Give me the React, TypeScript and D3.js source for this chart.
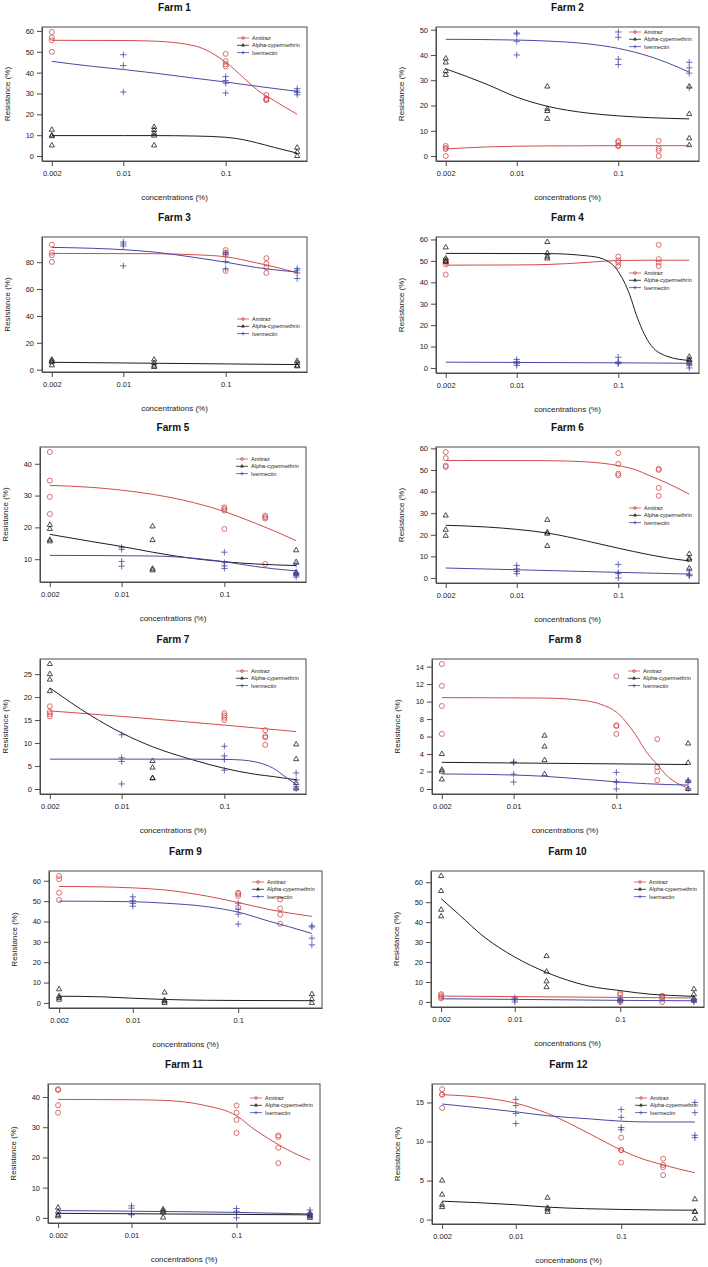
import React, { useEffect, useRef } from "react";
import * as d3 from "d3";

// ---- data ----
const farms = ["Farm 1", "Farm 2", "Farm 3", "Farm 4", "Farm 5", "Farm 6", "Farm 7", "Farm 8", "Farm 9", "Farm 10", "Farm 11", "Farm 12"];
const seriesNames = ["Amitraz", "Alpha-cypermethrin", "Ivermectin"];

const amitrazConc = [0.002, 0.1, 0.25];
const alphaConc = [0.002, 0.02, 0.5];
const ivermectinConc = [0.01, 0.1, 0.5];

const xTickValues = [0.002, 0.01, 0.1];
const xTickLabels = ["0.002", "0.01", "0.1"];
const yTickSteps = [10, 10, 20, 10, 10, 10, 5, 2, 10, 10, 10, 5];

const amitrazPoints = [
  [[59.5, 56.8, 55.5, 50], [49, 45.5, 44, 43], [29.3, 27.5, 27, 26.8]],
  [[4, 3.2, 2.8, 0], [6, 5.4, 4.2, 3.9], [6, 3, 2.1, 0]],
  [[93, 87, 85.2, 80.2], [89, 87, 85.5, 73.5], [83, 79, 76, 72]],
  [[50.5, 49.5, 48.4, 43.6], [52, 50.2, 49.2, 47.6], [57.5, 50.8, 49.2, 47.6]],
  [[43.7, 34.7, 29.6, 24.2], [26.3, 25.8, 25.3, 19.5], [23.7, 23.2, 22.8, 8.5]],
  [[58.3, 55.5, 52, 51.4], [57.8, 52.8, 48.3, 47.5], [50.5, 50, 41.7, 38]],
  [[18, 16.8, 16.3, 15.8], [16.5, 16, 15.5, 15], [12.8, 11.5, 11.2, 9.6]],
  [[14.3, 11.8, 9.5, 6.3], [12.9, 7.3, 7.2, 6.3], [5.7, 2.5, 2, 1]],
  [[62.3, 60.8, 54.1, 50.5], [54.1, 53.5, 52.5, 47], [50.8, 46.4, 43.4, 38.9]],
  [[3.9, 3.3, 2.5, 1.8], [4.3, 3.5, 0.8, 0], [3.1, 2.5, 1.5, 0]],
  [[42.6, 42.3, 37.3, 34.8], [37.2, 34.8, 32.4, 28.1], [27.3, 26.8, 23.2, 18.1]],
  [[16.7, 16, 16, 14.3], [10.5, 8.9, 8.9, 7.3], [7.8, 7, 6.7, 5.7]],
];

const alphaPoints = [
  [[12.6, 9.9, 9.5, 5.1], [13.9, 12.5, 11, 9.8, 5.1], [4, 1.9, 0]],
  [[38.6, 37, 33.6, 32.1], [27.5, 18.7, 17.8, 14.7], [27.5, 16.6, 7, 4.3]],
  [[7.5, 6.5, 5.5, 3.2], [7.5, 5, 3, 2], [6.5, 5, 3, 2.5]],
  [[56.3, 51.1, 50, 49.5], [58.8, 53.6, 52, 51.1], [5.2, 3.9, 3.5, 2.5]],
  [[20.8, 19.5, 16.1, 15.6], [20.3, 16, 7, 6.5], [12.8, 9.1, 5.9, 5.3]],
  [[28.9, 22.3, 19.5], [26.9, 21.1, 20.5, 14.8], [11.1, 9.1, 8.5, 4.5]],
  [[27.2, 25, 23.8, 21.3], [6.1, 4.65, 2.4, 2.3], [9.7, 6.5, 1.3, 0.1]],
  [[4, 2.2, 2, 1.1], [6.1, 4.85, 3.3, 1.7], [5.2, 3, 0.9, 0]],
  [[6.7, 3.3, 2.5, 1.6], [5.1, 1.3, 0.8, 0], [4.3, 1.8, 0]],
  [[63.1, 55.6, 46.2, 42.9], [23, 15.2, 10.3, 7.4], [6.4, 3.8, 1.8, 0.7]],
  [[3.4, 2, 1, 0.5], [2.8, 2.3, 1.8, 0.1], [1.5, 1, 0.5, 0]],
  [[5, 3.2, 1.9, 1.6], [2.8, 1.5, 1.3, 1], [2.6, 1, 1, 0.1]],
];

const ivermectinPoints = [
  [[48.6, 43.4, 30.7], [38.1, 36.2, 34.9, 30.2], [32.3, 31.2, 30.5, 29.4]],
  [[48.7, 48.3, 45.4, 40], [49.1, 47, 38.3, 36.2], [37.1, 34.9, 32.8, 27]],
  [[95, 93.5, 92, 77.2], [87, 86, 80.5, 75], [75.2, 74, 72, 67.8]],
  [[4, 3, 2, 1.2], [5, 2.8, 2.3, 2], [3.4, 1.9, 1.1, 0]],
  [[13.7, 13.1, 9.3, 7.8], [12.2, 8.9, 7.9, 7.1], [8.4, 5.6, 5.2, 4.4]],
  [[5.8, 4.2, 3, 2], [6.25, 2.5, 2, 0], [3.3, 1.8, 1.25, 1]],
  [[11.8, 6.8, 6, 1.1], [9.3, 7.2, 6.4, 4.1], [3.5, 2, 0.5, 0]],
  [[3.1, 3, 1.7, 0.8], [1.9, 0.8, 0.8, 0], [1, 0.8, 0]],
  [[52.1, 50.2, 48.9, 47.5], [49, 46, 43.6, 38.7], [37.9, 37.3, 31.8, 28.5]],
  [[2.1, 1.5, 1, 0], [2, 1.2, 0.8, 0.3], [1.5, 1, 0.5, 0]],
  [[4, 3.2, 1.3, 1], [3.1, 2.2, 1.8, 0], [2.6, 1.5, 1, 0.6]],
  [[15.4, 14.6, 13.6, 12.3], [14.1, 13.1, 11.8, 11.5], [15, 13.7, 10.8, 10.5]],
];

// fitted curves, [concentration, resistance]
const amitrazCurves = [
  [[0.002, 55.5], [0.01, 55.4], [0.02, 55.1], [0.05, 52.8], [0.1, 45], [0.15, 37.5], [0.2, 32], [0.3, 26.5], [0.5, 20]],
  [[0.002, 2.8], [0.005, 3.6], [0.01, 3.9], [0.02, 4], [0.1, 4.1], [0.5, 4.1]],
  [[0.002, 86.5], [0.02, 86.3], [0.05, 85.5], [0.1, 84], [0.2, 79.5], [0.3, 76.5], [0.5, 72]],
  [[0.002, 48], [0.01, 48.1], [0.02, 48.3], [0.05, 49.3], [0.1, 50.2], [0.2, 50.3], [0.5, 50.3]],
  [[0.002, 33.2], [0.005, 32.6], [0.01, 31.7], [0.02, 30.4], [0.05, 27.8], [0.1, 25], [0.2, 21.3], [0.3, 19], [0.5, 15.8]],
  [[0.002, 54.4], [0.02, 54.3], [0.05, 53.7], [0.1, 52], [0.15, 50], [0.2, 47.5], [0.3, 44], [0.5, 38.8]],
  [[0.002, 17], [0.01, 15.8], [0.1, 13.9], [0.5, 12.5]],
  [[0.002, 10.45], [0.02, 10.4], [0.05, 10.1], [0.07, 9.7], [0.1, 8.8], [0.15, 6.4], [0.2, 4.1], [0.25, 2.8], [0.3, 1.7], [0.5, 0.1]],
  [[0.002, 57.2], [0.005, 57], [0.01, 56.5], [0.02, 55.5], [0.05, 52.5], [0.1, 49.3], [0.2, 45.8], [0.3, 44.2], [0.5, 42.5]],
  [[0.002, 2.95], [0.5, 2]],
  [[0.002, 39.2], [0.01, 39.1], [0.02, 38.9], [0.05, 37.2], [0.1, 33.8], [0.15, 29.1], [0.2, 26.3], [0.3, 22.7], [0.5, 19.1]],
  [[0.002, 16], [0.005, 15.6], [0.01, 14.9], [0.02, 13.6], [0.05, 11], [0.1, 8.9], [0.15, 7.9], [0.25, 7], [0.5, 6]],
];

const alphaCurves = [
  [[0.002, 9.8], [0.01, 9.8], [0.02, 9.8], [0.05, 9.6], [0.1, 9], [0.15, 7.8], [0.2, 6.4], [0.3, 4.1], [0.5, 1.4]],
  [[0.002, 34.5], [0.005, 28.5], [0.01, 23.3], [0.02, 19.7], [0.05, 17], [0.1, 15.9], [0.2, 15.2], [0.5, 14.7]],
  [[0.002, 5.5], [0.01, 5], [0.1, 4.3], [0.5, 3.8]],
  [[0.002, 53.5], [0.02, 53.4], [0.05, 52.3], [0.07, 51], [0.1, 45], [0.13, 34], [0.15, 25], [0.2, 12], [0.3, 5.5], [0.5, 3.5]],
  [[0.002, 17.8], [0.005, 15.6], [0.01, 14], [0.02, 12.2], [0.05, 10.2], [0.1, 9.2], [0.2, 8.5], [0.5, 8]],
  [[0.002, 24.4], [0.005, 23.6], [0.01, 22.5], [0.02, 20.8], [0.05, 17], [0.1, 13.8], [0.2, 10.8], [0.3, 9.3], [0.5, 7.9]],
  [[0.002, 22], [0.005, 16], [0.01, 12.2], [0.02, 9.2], [0.05, 6.3], [0.1, 4.5], [0.2, 3.2], [0.3, 2.7], [0.5, 2]],
  [[0.002, 3.05], [0.5, 2.8]],
  [[0.002, 3.3], [0.005, 3], [0.01, 2.3], [0.02, 1.7], [0.05, 1.3], [0.1, 1.2], [0.5, 1.1]],
  [[0.002, 51.8], [0.003, 43.5], [0.005, 33], [0.01, 22.5], [0.02, 14.8], [0.05, 8], [0.1, 5.7], [0.2, 3.8], [0.3, 3.3], [0.5, 2.8]],
  [[0.002, 1.5], [0.5, 1]],
  [[0.002, 2.36], [0.01, 1.9], [0.02, 1.6], [0.1, 1.3], [0.5, 1.2]],
];

const ivermectinCurves = [
  [[0.002, 45.4], [0.005, 43], [0.01, 41.5], [0.02, 39.8], [0.05, 37.3], [0.1, 35.5], [0.2, 33.5], [0.5, 31]],
  [[0.002, 46.2], [0.01, 45.9], [0.02, 45.5], [0.05, 44.4], [0.1, 42.6], [0.2, 39.5], [0.3, 37], [0.5, 33.2]],
  [[0.002, 91], [0.005, 90.3], [0.01, 89.3], [0.02, 87.5], [0.05, 83.5], [0.1, 80], [0.2, 76], [0.3, 74.3], [0.5, 72.7]],
  [[0.002, 2.7], [0.1, 2.4], [0.5, 2.2]],
  [[0.002, 11.2], [0.02, 11], [0.05, 10.3], [0.1, 9.2], [0.2, 7.7], [0.3, 7], [0.5, 6.3]],
  [[0.002, 4.6], [0.01, 3.8], [0.1, 2.6], [0.5, 1.8]],
  [[0.002, 6.5], [0.05, 6.5], [0.1, 6.45], [0.15, 6.3], [0.2, 5.9], [0.25, 5.3], [0.3, 4.5], [0.4, 2.5], [0.5, 1]],
  [[0.002, 1.72], [0.005, 1.68], [0.01, 1.6], [0.02, 1.45], [0.05, 1.1], [0.1, 0.82], [0.2, 0.6], [0.5, 0.45]],
  [[0.002, 50], [0.01, 49.7], [0.02, 49], [0.05, 47.3], [0.1, 44.6], [0.2, 40], [0.3, 37.5], [0.5, 34.1]],
  [[0.002, 1.6], [0.01, 1.3], [0.1, 0.8], [0.5, 0.6]],
  [[0.002, 2.4], [0.01, 2.2], [0.1, 1.8], [0.5, 1.3]],
  [[0.002, 14.8], [0.01, 13.8], [0.02, 13.3], [0.05, 12.9], [0.1, 12.6], [0.2, 12.5], [0.5, 12.5]],
];

// ---- layout (plot box of each panel: left, right, top, bottom) ----
const frames = [
  [42, 307, 27, 161], [436, 699, 27, 161],
  [42, 307, 237, 372], [436, 699, 237, 373],
  [40, 306, 447, 582], [436, 699, 447, 583],
  [40, 306, 659, 794], [432, 698, 659, 794],
  [49, 322, 871, 1008], [431, 704, 871, 1007],
  [48, 320, 1084, 1223], [432, 705, 1084, 1224],
];
const legendOffsets = [11, 5, 82, 36, 12, 61, 12, 12, 11, 11, 14, 14];

const RED = "#d24b4b";
const BLACK = "#1e1e1e";
const BLUE = "#4848a6";
const FONT = "'Liberation Sans', Arial, Helvetica, sans-serif";

const shapePath = (shape, s = 1) => {
  if (shape === "triangle") return `M0,${-3 * s}L${2.6 * s},${1.5 * s}L${-2.6 * s},${1.5 * s}Z`;
  if (shape === "plus") return `M${-3.2 * s},0H${3.2 * s}M0,${-3.2 * s}V${3.2 * s}`;
  const r = 2.5 * s;
  return `M${-r},0a${r},${r} 0 1,0 ${2 * r},0a${r},${r} 0 1,0 ${-2 * r},0`;
};

const App = () => {
  const svgRef = useRef(null);

  useEffect(() => {
    const svg = d3.select(svgRef.current);
    svg.selectAll("*").remove();

    farms.forEach((farm, i) => {
      const [x0, x1, y0, y1] = frames[i];
      const series = [
        { name: seriesNames[0], conc: amitrazConc, pts: amitrazPoints[i], curve: amitrazCurves[i], color: RED, shape: "circle" },
        { name: seriesNames[1], conc: alphaConc, pts: alphaPoints[i], curve: alphaCurves[i], color: BLACK, shape: "triangle" },
        { name: seriesNames[2], conc: ivermectinConc, pts: ivermectinPoints[i], curve: ivermectinCurves[i], color: BLUE, shape: "plus" },
      ];

      // R-style 4% padding
      const vals = series.flatMap((s) => [...s.pts.flat(), ...s.curve.map((d) => d[1])]);
      const lo = d3.min(vals);
      const hi = d3.max(vals);
      const pad = (hi - lo) * 0.04;
      const y = d3.scaleLinear().domain([lo - pad, hi + pad]).range([y1, y0]);

      const l0 = Math.log10(0.002);
      const l1 = Math.log10(0.5);
      const px = (l1 - l0) * 0.04;
      const x = d3.scaleLog().domain([10 ** (l0 - px), 10 ** (l1 + px)]).range([x0, x1]);

      const g = svg.append("g");

      // points
      series.forEach((s) => {
        s.pts.forEach((group, k) => {
          g.append("g")
            .selectAll("path")
            .data(group)
            .enter()
            .append("path")
            .attr("transform", (d) => `translate(${x(s.conc[k])},${y(d)})`)
            .attr("d", shapePath(s.shape))
            .attr("fill", "none")
            .attr("stroke", s.color)
            .attr("stroke-width", 0.8);
        });
      });

      // fitted curves
      const line = d3
        .line()
        .x((d) => x(d[0]))
        .y((d) => y(d[1]))
        .curve(d3.curveMonotoneX);
      series.forEach((s) => {
        g.append("path")
          .attr("d", line(s.curve))
          .attr("fill", "none")
          .attr("stroke", s.color)
          .attr("stroke-width", 1);
      });

      // box
      g.append("rect")
        .attr("x", x0)
        .attr("y", y0)
        .attr("width", x1 - x0)
        .attr("height", y1 - y0)
        .attr("fill", "none")
        .attr("stroke", "#4a4a4a")
        .attr("stroke-width", 1);

      // axes
      const step = yTickSteps[i];
      const [dLo, dHi] = y.domain();
      const yTicks = d3.range(Math.ceil(dLo / step) * step, dHi, step);
      const yAxis = g
        .append("g")
        .attr("transform", `translate(${x0},0)`)
        .call(d3.axisLeft(y).tickValues(yTicks).tickSize(5).tickSizeOuter(0).tickPadding(3));
      const xAxis = g
        .append("g")
        .attr("transform", `translate(0,${y1})`)
        .call(
          d3
            .axisBottom(x)
            .tickValues(xTickValues)
            .tickFormat((d, j) => xTickLabels[j])
            .tickSize(5)
            .tickSizeOuter(0)
            .tickPadding(5)
        );
      [yAxis, xAxis].forEach((ax) => {
        ax.attr("font-family", FONT).attr("font-size", 7.5);
        ax.selectAll("line").attr("stroke", "#4a4a4a");
        ax.select(".domain").attr("stroke", "#4a4a4a");
        ax.selectAll("text").attr("fill", "#222");
      });

      // titles
      const cx = (x0 + x1) / 2;
      g.append("text")
        .attr("x", cx)
        .attr("y", y0 - 20)
        .attr("text-anchor", "middle")
        .attr("dominant-baseline", "central")
        .attr("font-family", FONT)
        .attr("font-weight", "bold")
        .attr("font-size", 10)
        .attr("fill", "#111")
        .text(farm);
      g.append("text")
        .attr("x", cx)
        .attr("y", y1 + 36)
        .attr("text-anchor", "middle")
        .attr("dominant-baseline", "central")
        .attr("font-family", FONT)
        .attr("font-size", 8)
        .attr("fill", "#222")
        .text("concentrations (%)");
      g.append("text")
        .attr("transform", `translate(${x0 - 35},${(y0 + y1) / 2}) rotate(-90)`)
        .attr("text-anchor", "middle")
        .attr("dominant-baseline", "central")
        .attr("font-family", FONT)
        .attr("font-size", 8)
        .attr("fill", "#222")
        .text("Resistance (%)");

      // legend
      const lx = x1 - 70;
      const ly = y0 + legendOffsets[i];
      series.forEach((s, k) => {
        const yy = ly + k * 7.3;
        g.append("line")
          .attr("x1", lx)
          .attr("x2", lx + 12)
          .attr("y1", yy)
          .attr("y2", yy)
          .attr("stroke", s.color)
          .attr("stroke-width", 0.8);
        g.append("path")
          .attr("transform", `translate(${lx + 6},${yy})`)
          .attr("d", shapePath(s.shape, 0.55))
          .attr("fill", "none")
          .attr("stroke", s.color)
          .attr("stroke-width", 0.8);
        g.append("text")
          .attr("x", lx + 15)
          .attr("y", yy)
          .attr("dominant-baseline", "central")
          .attr("font-family", FONT)
          .attr("font-size", 5.5)
          .attr("fill", "#222")
          .text(s.name);
      });
    });
  }, []);

  return (
    <svg
      ref={svgRef}
      width={708}
      height={1267}
      style={{ position: "absolute", left: 0, top: 0, background: "#fff" }}
    />
  );
};

export default App;
